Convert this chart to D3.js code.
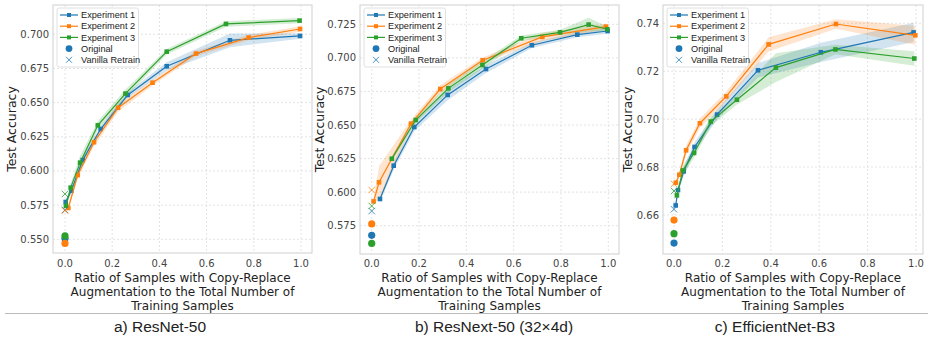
<!DOCTYPE html>
<html>
<head>
<meta charset="utf-8">
<script src="https://cdn.jsdelivr.net/npm/d3@7"></script>
<style>
  body { margin: 0; background: #fff; }
  svg { display: block; }
</style>
</head>
<body>
<svg id="fig" width="934" height="338"></svg>
<script>
// ---- data ----
var seriesNames = ["Experiment 1", "Experiment 2", "Experiment 3"];
var colors = ["#1f77b4", "#ff7f0e", "#2ca02c"];

// a) ResNet-50
var r50X1 = [0.003, 0.027, 0.075, 0.151, 0.266, 0.431, 0.699, 0.996];
var r50Y1 = [0.5773, 0.5856, 0.608, 0.6307, 0.6556, 0.6766, 0.6956, 0.6988];
var r50E1 = [0.002, 0.002, 0.002, 0.002, 0.002, 0.003, 0.005, 0.002];
var r50X2 = [0.014, 0.054, 0.123, 0.225, 0.371, 0.555, 0.778, 0.996];
var r50Y2 = [0.5729, 0.597, 0.621, 0.6463, 0.6646, 0.6859, 0.6976, 0.7039];
var r50E2 = [0.002, 0.002, 0.003, 0.003, 0.002, 0.002, 0.002, 0.002];
var r50X3 = [0.004, 0.024, 0.064, 0.139, 0.256, 0.431, 0.682, 0.994];
var r50Y3 = [0.5744, 0.5878, 0.6061, 0.6334, 0.6566, 0.6873, 0.7076, 0.7100];
var r50E3 = [0.002, 0.003, 0.005, 0.003, 0.003, 0.002, 0.002, 0.002];
var r50Original = [0.5505, 0.547, 0.5525];
var r50Vanilla = [0.5715, 0.571, 0.5832];

// b) ResNext-50 (32x4d)
var rnxX1 = [0.035, 0.093, 0.180, 0.321, 0.483, 0.677, 0.869, 0.997];
var rnxY1 = [0.5949, 0.6197, 0.6485, 0.6724, 0.6917, 0.7094, 0.7173, 0.720];
var rnxE1 = [0.002, 0.003, 0.003, 0.004, 0.003, 0.002, 0.002, 0.002];
var rnxX2 = [0.008, 0.031, 0.166, 0.290, 0.469, 0.721, 0.990];
var rnxY2 = [0.5931, 0.6073, 0.651, 0.6768, 0.6982, 0.7156, 0.7233];
var rnxE2 = [0.002, 0.012, 0.003, 0.003, 0.002, 0.003, 0.002];
var rnxX3 = [0.085, 0.186, 0.324, 0.468, 0.632, 0.796, 0.917, 0.996];
var rnxY3 = [0.6249, 0.6537, 0.6773, 0.6947, 0.7146, 0.7190, 0.7248, 0.7213];
var rnxE3 = [0.002, 0.002, 0.003, 0.003, 0.002, 0.002, 0.005, 0.002];
var rnxOriginal = [0.5678, 0.5763, 0.5618];
var rnxVanilla = [0.5859, 0.6016, 0.5897];

// c) EfficientNet-B3
var effX1 = [0.007, 0.0165, 0.040, 0.085, 0.178, 0.347, 0.607, 0.990];
var effY1 = [0.664, 0.6704, 0.6782, 0.6884, 0.7019, 0.7204, 0.7279, 0.7362];
var effE1 = [0.001, 0.001, 0.002, 0.002, 0.002, 0.003, 0.004, 0.004];
var effX2 = [0.008, 0.022, 0.050, 0.107, 0.216, 0.391, 0.669, 0.997];
var effY2 = [0.6735, 0.6768, 0.687, 0.6983, 0.7095, 0.7312, 0.7397, 0.735];
var effE2 = [0.001, 0.001, 0.002, 0.002, 0.002, 0.003, 0.002, 0.004];
var effX3 = [0.012, 0.037, 0.083, 0.152, 0.260, 0.421, 0.667, 0.993];
var effY3 = [0.6682, 0.6786, 0.6859, 0.699, 0.7081, 0.7215, 0.7291, 0.7253];
var effE3 = [0.001, 0.002, 0.002, 0.002, 0.002, 0.006, 0.002, 0.003];
var effOriginal = [0.6483, 0.6579, 0.6522];
var effVanilla = [0.6624, 0.673, 0.670];

var xTicks = [0, 0.2, 0.4, 0.6, 0.8, 1.0];
var r50YTicks = [0.550, 0.575, 0.600, 0.625, 0.650, 0.675, 0.700];
var rnxYTicks = [0.575, 0.600, 0.625, 0.650, 0.675, 0.700, 0.725];
var effYTicks = [0.66, 0.68, 0.70, 0.72, 0.74];
var captions = ["a) ResNet-50", "b) ResNext-50 (32\u00d74d)", "c) EfficientNet-B3"];
var xLabelLines = ["Ratio of Samples with Copy-Replace", "Augmentation to the Total Number of", "Training Samples"];

function zipSeries(xs, ys, es) {
  return xs.map(function(x, i) { return {x: x, y: ys[i], e: es[i]}; });
}

// layout of each panel (pixel frame + where tick values land)
var panels = [
  { frame: [53, 312, 5, 253], xr: [65, 301], yd: [0.55, 0.70], yr: [239.3, 34.3],
    yTicks: r50YTicks, fmt: ".3f", ylabX: 12, capX: 160,
    series: [zipSeries(r50X1, r50Y1, r50E1), zipSeries(r50X2, r50Y2, r50E2), zipSeries(r50X3, r50Y3, r50E3)],
    original: r50Original, vanilla: r50Vanilla },
  { frame: [360, 619, 5, 254], xr: [371.7, 608.3], yd: [0.575, 0.725], yr: [225.7, 24.3],
    yTicks: rnxYTicks, fmt: ".3f", ylabX: 320, capX: 494,
    series: [zipSeries(rnxX1, rnxY1, rnxE1), zipSeries(rnxX2, rnxY2, rnxE2), zipSeries(rnxX3, rnxY3, rnxE3)],
    original: rnxOriginal, vanilla: rnxVanilla },
  { frame: [663, 923, 5, 254], xr: [674, 916], yd: [0.66, 0.74], yr: [215, 23.3],
    yTicks: effYTicks, fmt: ".2f", ylabX: 628, capX: 775,
    series: [zipSeries(effX1, effY1, effE1), zipSeries(effX2, effY2, effE2), zipSeries(effX3, effY3, effE3)],
    original: effOriginal, vanilla: effVanilla }
];

var svg = d3.select("#fig");
var tickFont = "DejaVu Sans, sans-serif";
var legFont = "Liberation Sans, Arial, sans-serif";

// separator line above captions
svg.append("line")
  .attr("x1", 5).attr("x2", 928).attr("y1", 313.5).attr("y2", 313.5)
  .attr("stroke", "#bbb").attr("stroke-width", 1);

panels.forEach(function(p, pi) {
  var fx0 = p.frame[0], fx1 = p.frame[1], fy0 = p.frame[2], fy1 = p.frame[3];
  var x = d3.scaleLinear().domain([0, 1]).range(p.xr);
  var y = d3.scaleLinear().domain(p.yd).range(p.yr);
  var g = svg.append("g");

  // grid
  g.selectAll("line.gx").data(xTicks).enter().append("line")
    .attr("x1", function(d) { return x(d); }).attr("x2", function(d) { return x(d); })
    .attr("y1", fy0).attr("y2", fy1)
    .attr("stroke", "#dcdcdc").attr("stroke-width", 0.8).attr("stroke-dasharray", "2,2");
  g.selectAll("line.gy").data(p.yTicks).enter().append("line")
    .attr("x1", fx0).attr("x2", fx1)
    .attr("y1", function(d) { return y(d); }).attr("y2", function(d) { return y(d); })
    .attr("stroke", "#dcdcdc").attr("stroke-width", 0.8).attr("stroke-dasharray", "2,2");

  // tick labels
  g.selectAll("text.tx").data(xTicks).enter().append("text")
    .attr("x", function(d) { return x(d); }).attr("y", 267)
    .attr("text-anchor", "middle").attr("font-family", tickFont).attr("font-size", 10)
    .attr("fill", "#444").text(d3.format(".1f"));
  g.selectAll("text.ty").data(p.yTicks).enter().append("text")
    .attr("x", fx0 - 4).attr("y", function(d) { return y(d); }).attr("dy", "0.35em")
    .attr("text-anchor", "end").attr("font-family", tickFont).attr("font-size", 10)
    .attr("fill", "#444").text(d3.format(p.fmt));

  // clip to frame
  var clipId = "clip" + pi;
  svg.append("clipPath").attr("id", clipId).append("rect")
    .attr("x", fx0).attr("y", fy0).attr("width", fx1 - fx0).attr("height", fy1 - fy0);
  var plot = g.append("g").attr("clip-path", "url(#" + clipId + ")");

  var area = d3.area()
    .x(function(d) { return x(d.x); })
    .y0(function(d) { return y(d.y - d.e); })
    .y1(function(d) { return y(d.y + d.e); });
  var line = d3.line()
    .x(function(d) { return x(d.x); })
    .y(function(d) { return y(d.y); });

  p.series.forEach(function(s, si) {
    plot.append("path").datum(s).attr("d", area)
      .attr("fill", colors[si]).attr("fill-opacity", 0.2);
  });
  p.series.forEach(function(s, si) {
    plot.append("path").datum(s).attr("d", line)
      .attr("fill", "none").attr("stroke", colors[si]).attr("stroke-width", 1.2);
    plot.selectAll("rect.m" + si).data(s).enter().append("rect")
      .attr("x", function(d) { return x(d.x) - 2.3; })
      .attr("y", function(d) { return y(d.y) - 2.3; })
      .attr("width", 4.6).attr("height", 4.6)
      .attr("fill", colors[si]);
  });

  // original (circles) and vanilla retrain (crosses) at ratio 0
  p.original.forEach(function(v, si) {
    plot.append("circle").attr("cx", x(0)).attr("cy", y(v)).attr("r", 3.6)
      .attr("fill", colors[si]);
  });
  p.vanilla.forEach(function(v, si) {
    var cx = x(0), cy = y(v), k = 3.2;
    plot.append("path")
      .attr("d", "M" + (cx - k) + "," + (cy - k) + "L" + (cx + k) + "," + (cy + k) +
                 "M" + (cx - k) + "," + (cy + k) + "L" + (cx + k) + "," + (cy - k))
      .attr("stroke", colors[si]).attr("stroke-width", 1).attr("stroke-opacity", 0.8)
      .attr("fill", "none");
  });

  // frame
  g.append("rect").attr("x", fx0).attr("y", fy0)
    .attr("width", fx1 - fx0).attr("height", fy1 - fy0)
    .attr("fill", "none").attr("stroke", "#cfcfcf").attr("stroke-width", 1);

  // legend
  var lx = fx0 + 4, ly = 8;
  var leg = g.append("g");
  leg.append("rect").attr("x", lx).attr("y", ly).attr("width", 81.5).attr("height", 59)
    .attr("rx", 2).attr("fill", "#fff").attr("fill-opacity", 0.85)
    .attr("stroke", "#d8d8d8").attr("stroke-width", 0.8);
  var rowY = function(i) { return ly + 7 + i * 11.2; };
  seriesNames.forEach(function(name, i) {
    var ry = rowY(i);
    leg.append("line").attr("x1", lx + 3).attr("x2", lx + 21).attr("y1", ry).attr("y2", ry)
      .attr("stroke", colors[i]).attr("stroke-width", 1.2);
    leg.append("rect").attr("x", lx + 12 - 2).attr("y", ry - 2).attr("width", 4).attr("height", 4)
      .attr("fill", colors[i]);
    leg.append("text").attr("x", lx + 24).attr("y", ry).attr("dy", "0.35em")
      .attr("font-family", legFont).attr("font-size", 9.2).attr("fill", "#222").text(name);
  });
  var r3 = rowY(3), r4 = rowY(4);
  leg.append("circle").attr("cx", lx + 12).attr("cy", r3).attr("r", 3.4).attr("fill", colors[0]);
  leg.append("text").attr("x", lx + 24).attr("y", r3).attr("dy", "0.35em")
    .attr("font-family", legFont).attr("font-size", 9.2).attr("fill", "#222").text("Original");
  leg.append("path")
    .attr("d", "M" + (lx + 9) + "," + (r4 - 3) + "L" + (lx + 15) + "," + (r4 + 3) +
               "M" + (lx + 9) + "," + (r4 + 3) + "L" + (lx + 15) + "," + (r4 - 3))
    .attr("stroke", colors[0]).attr("stroke-width", 1).attr("stroke-opacity", 0.8);
  leg.append("text").attr("x", lx + 24).attr("y", r4).attr("dy", "0.35em")
    .attr("font-family", legFont).attr("font-size", 9.2).attr("fill", "#222").text("Vanilla Retrain");

  // axis labels
  var ymid = (fy0 + fy1) / 2;
  g.append("text").attr("transform", "translate(" + p.ylabX + "," + ymid + ") rotate(-90)")
    .attr("dy", "0.35em").attr("text-anchor", "middle")
    .attr("font-family", tickFont).attr("font-size", 12.5).attr("fill", "#222")
    .text("Test Accuracy");
  var xmid = (fx0 + fx1) / 2;
  xLabelLines.forEach(function(t, i) {
    g.append("text").attr("x", xmid).attr("y", 281.5 + i * 14)
      .attr("text-anchor", "middle").attr("font-family", tickFont).attr("font-size", 12)
      .attr("fill", "#222").text(t);
  });

  // caption
  svg.append("text").attr("x", p.capX).attr("y", 332)
    .attr("text-anchor", "middle").attr("font-family", legFont).attr("font-size", 15.5)
    .attr("fill", "#222").text(captions[pi]);
});
</script>
</body>
</html>
